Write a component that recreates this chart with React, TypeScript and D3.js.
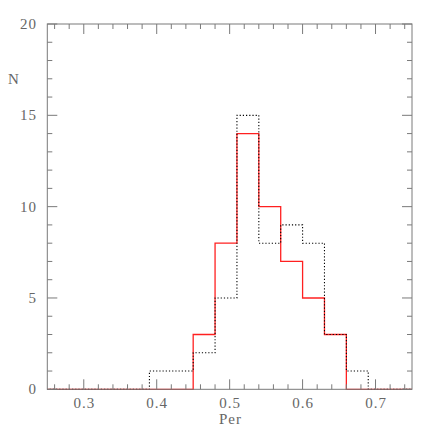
import React from "react";
import * as d3 from "d3";

const binStart = 0.24;
const binWidth = 0.03;
const redCounts = [0, 0, 0, 0, 0, 0, 0, 3, 8, 14, 10, 7, 5, 3, 0, 0, 0];
const blackCounts = [0, 0, 0, 0, 0, 1, 1, 2, 5, 15, 8, 9, 8, 3, 1, 0, 0];
const xTicks = [0.3, 0.4, 0.5, 0.6, 0.7];
const yTicks = [0, 5, 10, 15, 20];

const W = 436, H = 436;
const L = 47.3, R = 412, T = 24, B = 389.3;

export default function App() {
  const x = d3.scaleLinear().domain([0.25, 0.75]).range([L, R]);
  const y = d3.scaleLinear().domain([0, 20]).range([B, T]);

  const stepPath = (counts: number[]) => {
    const pts: [number, number][] = [];
    counts.forEach((c, i) => {
      const x0 = binStart + i * binWidth;
      const x1 = x0 + binWidth;
      pts.push([x0, c], [x1, c]);
    });
    const line = d3.line<[number, number]>().x((d) => x(d[0])).y((d) => y(d[1]));
    return line(pts) || "";
  };

  const xMinor = d3.range(0.26, 0.751, 0.02).map((v) => +v.toFixed(2));
  const yMinor = d3.range(0, 21, 1);
  const axisColor = "#7a7a7a";
  const textColor = "#666";
  const font = "'Liberation Serif', serif";

  return (
    <svg width={W} height={H} style={{ position: "absolute", left: 0, top: 0 }}>
      <defs>
        <clipPath id="plot">
          <rect x={L} y={T - 2} width={R - L} height={B - T + 4} />
        </clipPath>
      </defs>
      <rect width={W} height={H} fill="#fff" />
      <g clipPath="url(#plot)">
        <path d={stepPath(redCounts)} fill="none" stroke="#ff2020" strokeWidth={1.3} />
        <path d={stepPath(blackCounts)} fill="none" stroke="#000" strokeWidth={1.1} strokeDasharray="1.2,2" />
      </g>
      <g stroke={axisColor} strokeWidth={1} fill="none">
        <rect x={L} y={T} width={R - L} height={B - T} />
        {xMinor.map((v) => {
          const major = xTicks.some((t) => Math.abs(t - v) < 1e-6);
          const len = major ? 10 : 5;
          return (
            <g key={"x" + v}>
              <line x1={x(v)} x2={x(v)} y1={B} y2={B - len} />
              <line x1={x(v)} x2={x(v)} y1={T} y2={T + len} />
            </g>
          );
        })}
        {yMinor.map((v) => {
          const major = v % 5 === 0;
          const len = major ? 10 : 5;
          return (
            <g key={"y" + v}>
              <line x1={L} x2={L + len} y1={y(v)} y2={y(v)} />
              <line x1={R} x2={R - len} y1={y(v)} y2={y(v)} />
            </g>
          );
        })}
      </g>
      <g fill={textColor} fontFamily={font} fontSize={15} letterSpacing={1}>
        {xTicks.map((t) => (
          <text key={t} x={x(t) + 0.5} y={408} textAnchor="middle">{t.toFixed(1)}</text>
        ))}
        {yTicks.map((t) => (
          <text key={t} x={37} y={y(t) + 5} textAnchor="end">{t}</text>
        ))}
        <text x={230.5} y={424} textAnchor="middle">Per</text>
        <text x={14} y={84} textAnchor="middle">N</text>
      </g>
    </svg>
  );
}
